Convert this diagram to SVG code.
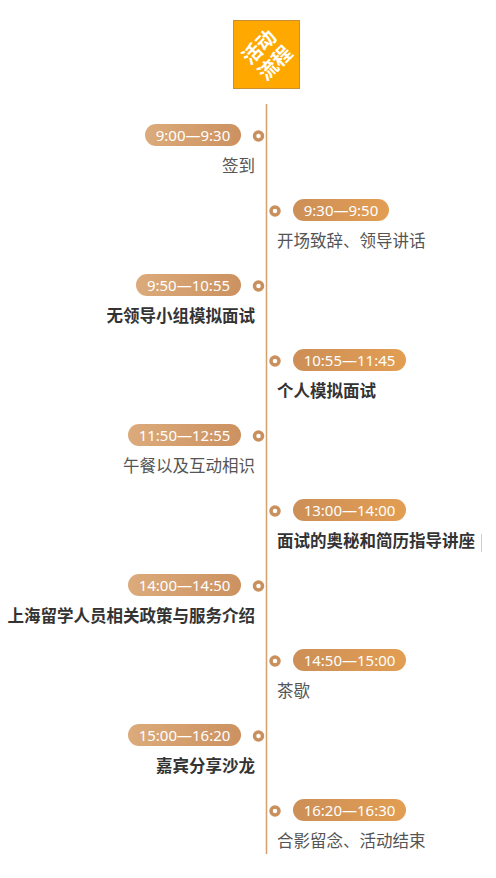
<svg xmlns="http://www.w3.org/2000/svg" width="496" height="878" viewBox="0 0 496 878">
<defs>
<linearGradient id="gL" x1="0" y1="0" x2="1" y2="0"><stop offset="0" stop-color="#dcab7b"/><stop offset="1" stop-color="#cc9160"/></linearGradient>
<linearGradient id="gR" x1="0" y1="0" x2="1" y2="0"><stop offset="0" stop-color="#cd8f58"/><stop offset="1" stop-color="#e29e52"/></linearGradient>
<style>
.pt{font-family:"Noto Sans","Liberation Sans",sans-serif;font-size:15px;fill:#fff;text-anchor:middle}
.t{font-family:"Noto Sans CJK SC","Noto Sans",sans-serif;font-size:16.5px;fill:#555}
.b{font-weight:bold;fill:#333}
.l{text-anchor:end}
.dot{fill:#fff;stroke:#c98f5c;stroke-width:3.5}
.pl{fill:url(#gL)}
.pr{fill:url(#gR)}
</style>
</defs>
<rect width="496" height="878" fill="#fff"/>
<g id="header">
<rect x="233.5" y="20.5" width="66" height="68" fill="#ffa800" stroke="#c8902f" stroke-width="1"/>
<g transform="rotate(-45 266.5 54.5)" font-family="Noto Sans CJK SC,sans-serif" font-weight="bold" font-size="19.5" fill="#fff" text-anchor="middle">
<text x="266.5" y="51">活动</text>
<text x="266.5" y="73.5">流程</text>
</g>
</g>
<g id="connectors">
<line x1="266.5" y1="104" x2="266.5" y2="854" stroke="#d4a06c" stroke-width="1.5"/>
</g>
<g id="n1"><rect class="pl" x="145" y="124" width="96" height="22" rx="11"/><text class="pt" x="193" y="140.5">9:00—9:30</text><circle class="dot" cx="258.5" cy="136" r="4"/><text class="t l" x="255" y="172">签到</text></g>
<g id="n2"><rect class="pr" x="293" y="199" width="96" height="22" rx="11"/><text class="pt" x="341" y="215.5">9:30—9:50</text><circle class="dot" cx="275" cy="211" r="4"/><text class="t" x="277" y="247">开场致辞、领导讲话</text></g>
<g id="n3"><rect class="pl" x="136" y="274" width="105" height="22" rx="11"/><text class="pt" x="188.5" y="290.5">9:50—10:55</text><circle class="dot" cx="258.5" cy="286" r="4"/><text class="t l b" x="255" y="322">无领导小组模拟面试</text></g>
<g id="n4"><rect class="pr" x="293" y="349" width="113" height="22" rx="11"/><text class="pt" x="349.5" y="365.5">10:55—11:45</text><circle class="dot" cx="275" cy="361" r="4"/><text class="t b" x="277" y="397">个人模拟面试</text></g>
<g id="n5"><rect class="pl" x="128" y="424" width="113" height="22" rx="11"/><text class="pt" x="184.5" y="440.5">11:50—12:55</text><circle class="dot" cx="258.5" cy="436" r="4"/><text class="t l" x="255" y="472">午餐以及互动相识</text></g>
<g id="n6"><rect class="pr" x="293" y="499" width="113" height="22" rx="11"/><text class="pt" x="349.5" y="515.5">13:00—14:00</text><circle class="dot" cx="275" cy="511" r="4"/><text class="t b" x="277" y="547">面试的奥秘和简历指导讲座</text><line x1="481.5" y1="534" x2="481.5" y2="552" stroke="#bcd3ee" stroke-width="1"/></g>
<g id="n7"><rect class="pl" x="128" y="574" width="113" height="22" rx="11"/><text class="pt" x="184.5" y="590.5">14:00—14:50</text><circle class="dot" cx="258.5" cy="586" r="4"/><text class="t l b" x="255" y="622">上海留学人员相关政策与服务介绍</text></g>
<g id="n8"><rect class="pr" x="293" y="649" width="113" height="22" rx="11"/><text class="pt" x="349.5" y="665.5">14:50—15:00</text><circle class="dot" cx="275" cy="661" r="4"/><text class="t" x="277" y="697">茶歇</text></g>
<g id="n9"><rect class="pl" x="128" y="724" width="113" height="22" rx="11"/><text class="pt" x="184.5" y="740.5">15:00—16:20</text><circle class="dot" cx="258.5" cy="736" r="4"/><text class="t l b" x="255" y="772">嘉宾分享沙龙</text></g>
<g id="n10"><rect class="pr" x="293" y="799" width="113" height="22" rx="11"/><text class="pt" x="349.5" y="815.5">16:20—16:30</text><circle class="dot" cx="275" cy="811" r="4"/><text class="t" x="277" y="847">合影留念、活动结束</text></g>
</svg>
